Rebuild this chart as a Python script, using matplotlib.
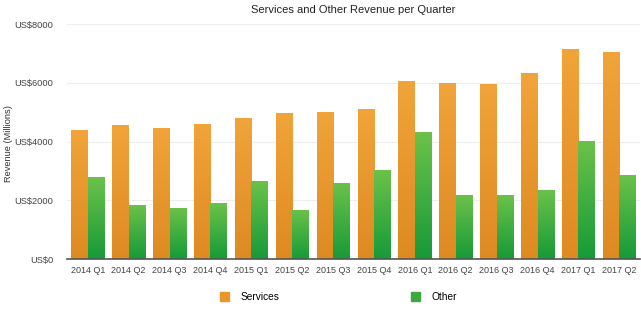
import matplotlib
matplotlib.use('Agg')
import matplotlib.pyplot as plt
import numpy as np
from matplotlib.colors import LinearSegmentedColormap
from matplotlib.patches import Patch

plt.rcParams['font.family'] = ['Liberation Sans', 'DejaVu Sans']

quarters = ['2014 Q1', '2014 Q2', '2014 Q3', '2014 Q4',
            '2015 Q1', '2015 Q2', '2015 Q3', '2015 Q4',
            '2016 Q1', '2016 Q2', '2016 Q3', '2016 Q4',
            '2017 Q1', '2017 Q2']
services = [4390, 4560, 4460, 4600, 4800, 4970, 5000, 5100,
            6060, 6000, 5960, 6330, 7150, 7050]
other = [2790, 1840, 1740, 1900, 2660, 1670, 2590, 3030,
         4320, 2180, 2180, 2350, 4020, 2860]
yticks = [0, 2000, 4000, 6000, 8000]

orange_cm = LinearSegmentedColormap.from_list('o', ['#DE8A22', '#F0A43A'])
green_cm = LinearSegmentedColormap.from_list('g', ['#169A38', '#6CC24A'])

fig = plt.figure(figsize=(6.41, 3.21), dpi=100)
ax = fig.add_axes([0.105, 0.193, 0.893, 0.732])

x = np.arange(len(quarters))
w = 0.4
grad = np.linspace(0, 1, 256).reshape(-1, 1)

def gradient_bars(xs, vals, cmap):
    bars = ax.bar(xs, vals, w, color='none', edgecolor='none', zorder=2)
    for b in bars:
        x0, y0 = b.get_x(), b.get_y()
        x1, y1 = x0 + b.get_width(), y0 + b.get_height()
        im = ax.imshow(grad, cmap=cmap, aspect='auto', origin='lower',
                       extent=[x0, x1, y0, y1], zorder=2)
        im.set_clip_path(b)
    return bars

gradient_bars(x - w / 2, services, orange_cm)
gradient_bars(x + w / 2, other, green_cm)

ax.set_xlim(-0.5, len(quarters) - 0.5)
ax.set_ylim(0, 8000)
ax.set_yticks(yticks)
ax.set_yticklabels(['US$%d' % v for v in yticks], fontsize=6.7, color='#444444')
ax.set_xticks(x)
ax.set_xticklabels(quarters, fontsize=6.5, color='#444444')
ax.tick_params(axis='x', length=0, pad=5)
ax.tick_params(axis='y', length=0, pad=10)
ax.grid(axis='y', color='#EEEEEE', linewidth=0.8, zorder=0)
ax.set_axisbelow(True)
for s in ['top', 'right', 'left']:
    ax.spines[s].set_visible(False)
ax.spines['bottom'].set_color('#555555')
ax.spines['bottom'].set_linewidth(1.2)

ax.set_ylabel('Revenue (Millions)', fontsize=6.7, color='#333333')
ax.yaxis.set_label_coords(-0.095, 0.49)
ax.set_title('Services and Other Revenue per Quarter', fontsize=8,
             color='#222222', pad=8)

handles = [Patch(color='#E9962B'), Patch(color='#3DA83F')]
fig.legend(handles, ['Services', 'Other'], loc='center', ncol=2,
           bbox_to_anchor=(0.528, 0.075), frameon=False, fontsize=7.3,
           handlelength=0.9, handleheight=0.9, handletextpad=1.1,
           columnspacing=13)

fig.savefig('out.png', dpi=100)
